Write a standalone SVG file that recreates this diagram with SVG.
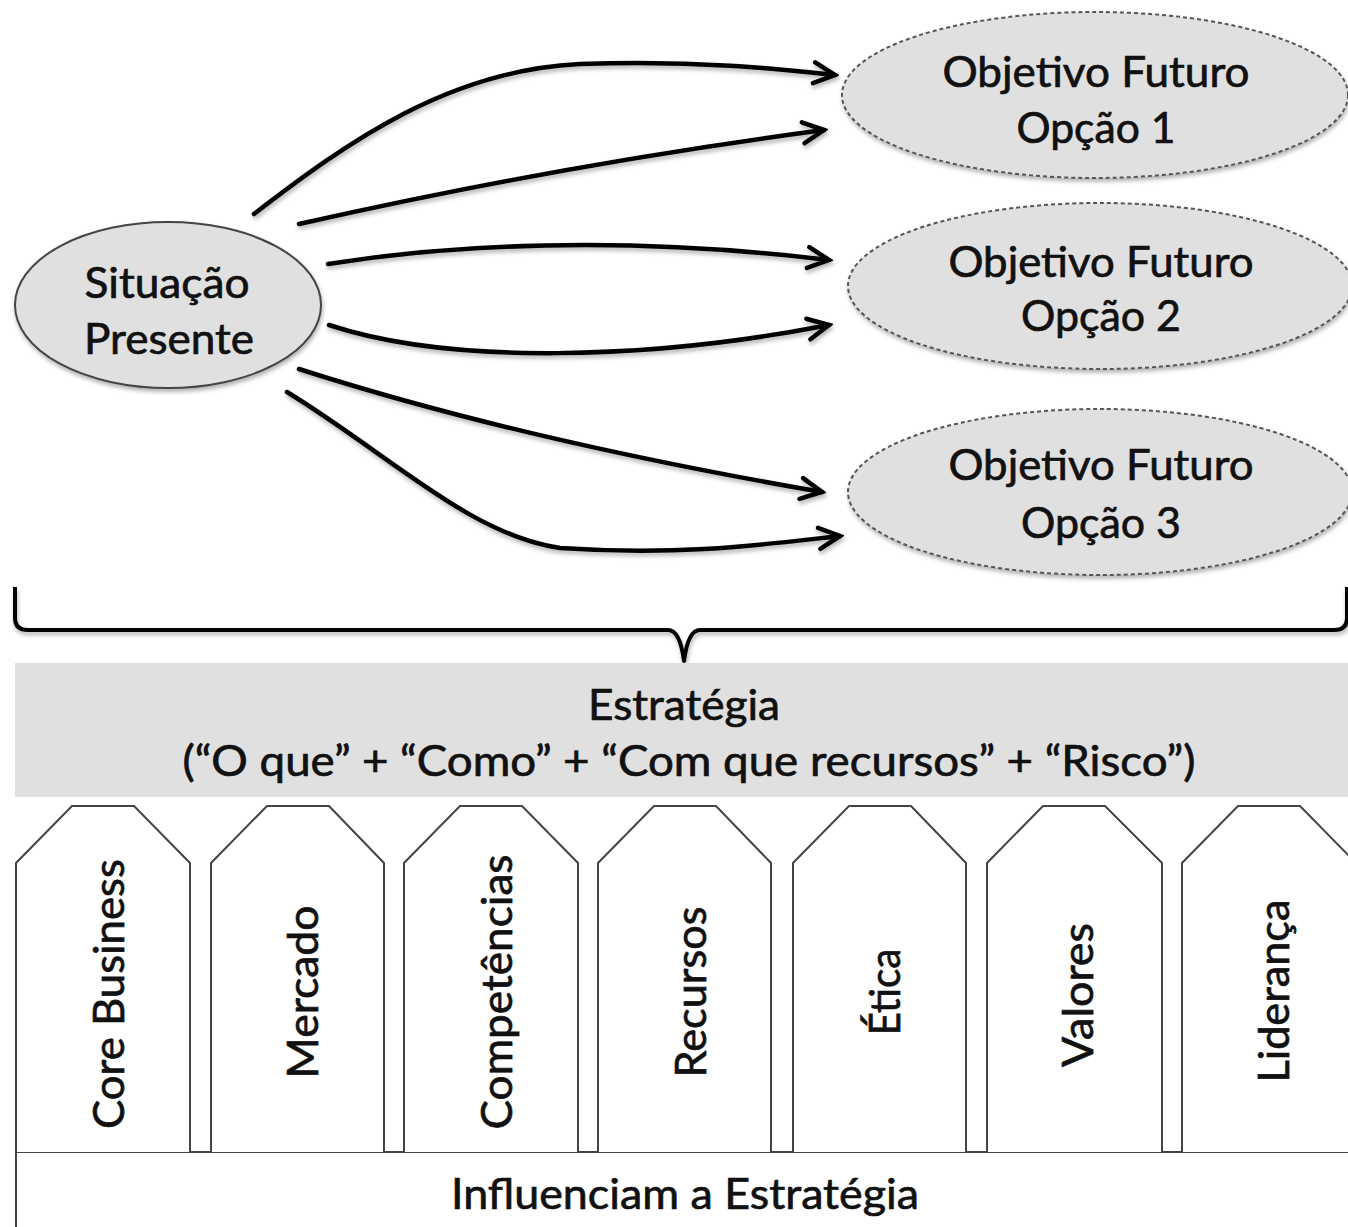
<svg xmlns="http://www.w3.org/2000/svg" width="1348" height="1227" viewBox="0 0 1348 1227">
<style>
.t{font-family:Lato,"Open Sans","Liberation Sans",sans-serif;font-size:43px;fill:#111;stroke:#111;stroke-width:0.7px;text-anchor:middle}
.conn{fill:none;stroke:#000;stroke-width:4.5;stroke-linecap:round}
.goal{fill:#e0e0e0;stroke:#555;stroke-width:2;stroke-dasharray:4 3}
.pillar{fill:#fff;stroke:#444;stroke-width:2}
</style>
<defs>
<filter id="sh" x="-10%" y="-10%" width="120%" height="130%">
<feDropShadow dx="1" dy="3" stdDeviation="2" flood-color="#000" flood-opacity="0.3"/>
</filter>
<marker id="arr" markerUnits="userSpaceOnUse" markerWidth="30" markerHeight="30" viewBox="-26 -15 30 30" refX="0" refY="0" orient="auto">
<path d="M-21,-10.5 L0,0 L-21,10.5" fill="none" stroke="#000" stroke-width="4.5" stroke-linecap="round" stroke-linejoin="miter"/>
</marker>
</defs>
<rect width="1348" height="1227" fill="#fff"/>

<g id="situacao">
<ellipse cx="168" cy="305" rx="153" ry="83" fill="#e0e0e0" stroke="#444" stroke-width="2" filter="url(#sh)"/>
<text class="t" x="167" y="298" textLength="165" lengthAdjust="spacingAndGlyphs">Situação</text>
<text class="t" x="169" y="354" textLength="170" lengthAdjust="spacingAndGlyphs">Presente</text>
</g>

<g id="opcao1">
<ellipse class="goal" cx="1095" cy="95" rx="253" ry="83" filter="url(#sh)"/>
<text class="t" x="1096" y="87" textLength="307" lengthAdjust="spacingAndGlyphs">Objetivo Futuro</text>
<text class="t" x="1096" y="143" textLength="159" lengthAdjust="spacingAndGlyphs">Opção 1</text>
</g>
<g id="opcao2">
<ellipse class="goal" cx="1100" cy="286" rx="252" ry="83" filter="url(#sh)"/>
<text class="t" x="1101" y="277" textLength="305" lengthAdjust="spacingAndGlyphs">Objetivo Futuro</text>
<text class="t" x="1101" y="331" textLength="160" lengthAdjust="spacingAndGlyphs">Opção 2</text>
</g>
<g id="opcao3">
<ellipse class="goal" cx="1100" cy="492" rx="252" ry="83" filter="url(#sh)"/>
<text class="t" x="1101" y="480" textLength="305" lengthAdjust="spacingAndGlyphs">Objetivo Futuro</text>
<text class="t" x="1101" y="538" textLength="160" lengthAdjust="spacingAndGlyphs">Opção 3</text>
</g>

<g id="connectors" filter="url(#sh)">
<path class="conn" marker-end="url(#arr)" d="M254,214 C350,140 450,70 580,64 C700,60 780,69 835,75"/>
<path class="conn" marker-end="url(#arr)" d="M299,224 Q560,165 824,130"/>
<path class="conn" marker-end="url(#arr)" d="M328,264 C450,245 620,235 829,260"/>
<path class="conn" marker-end="url(#arr)" d="M329,325 C450,365 650,360 829,325"/>
<path class="conn" marker-end="url(#arr)" d="M299,369 Q520,440 822,492"/>
<path class="conn" marker-end="url(#arr)" d="M287,392 C390,455 470,535 560,548 C680,556 760,545 840,536"/>
</g>

<g id="brace" filter="url(#sh)">
<path d="M15,587 L15,618 Q15,630 28,630 L668,630 Q680,630 684,661 Q688,630 700,630 L1334,630 Q1347,630 1347,618 L1347,587" fill="none" stroke="#000" stroke-width="4" stroke-linejoin="round"/>
</g>

<g id="estrategia">
<rect x="15" y="663" width="1340" height="134" fill="#e0e0e0"/>
<text class="t" x="684" y="720" textLength="192" lengthAdjust="spacingAndGlyphs">Estratégia</text>
<text class="t" x="689" y="776" textLength="1013" lengthAdjust="spacingAndGlyphs">(“O que” + “Como” + “Com que recursos” + “Risco”)</text>
</g>

<g id="influenciam">
<rect x="16" y="1152" width="1340" height="90" class="pillar"/>
<text class="t" x="685" y="1209" textLength="468" lengthAdjust="spacingAndGlyphs">Influenciam a Estratégia</text>
</g>

<g id="p-core">
<path class="pillar" d="M16,1152 L16,863 L72,806 L134,806 L190,863 L190,1152"/>
<text class="t" transform="translate(124,994) rotate(-90)" textLength="270" lengthAdjust="spacingAndGlyphs">Core Business</text>
</g>
<g id="p-mercado">
<path class="pillar" d="M211,1152 L211,863 L267,806 L329,806 L384,863 L384,1152"/>
<text class="t" transform="translate(318,992) rotate(-90)" textLength="173" lengthAdjust="spacingAndGlyphs">Mercado</text>
</g>
<g id="p-competencias">
<path class="pillar" d="M404,1152 L404,863 L460,806 L522,806 L578,863 L578,1152"/>
<text class="t" transform="translate(512,992) rotate(-90)" textLength="275" lengthAdjust="spacingAndGlyphs">Competências</text>
</g>
<g id="p-recursos">
<path class="pillar" d="M598,1152 L598,863 L654,806 L716,806 L771,863 L771,1152"/>
<text class="t" transform="translate(706,992) rotate(-90)" textLength="171" lengthAdjust="spacingAndGlyphs">Recursos</text>
</g>
<g id="p-etica">
<path class="pillar" d="M793,1152 L793,863 L849,806 L911,806 L966,863 L966,1152"/>
<text class="t" transform="translate(900,992) rotate(-90)" textLength="87" lengthAdjust="spacingAndGlyphs">Ética</text>
</g>
<g id="p-valores">
<path class="pillar" d="M987,1152 L987,863 L1043,806 L1105,806 L1162,863 L1162,1152"/>
<text class="t" transform="translate(1093,995) rotate(-90)" textLength="144" lengthAdjust="spacingAndGlyphs">Valores</text>
</g>
<g id="p-lideranca">
<path class="pillar" d="M1182,1152 L1182,863 L1238,806 L1300,806 L1356,863 L1356,1152"/>
<text class="t" transform="translate(1289,991) rotate(-90)" textLength="183" lengthAdjust="spacingAndGlyphs">Liderança</text>
</g>
</svg>
